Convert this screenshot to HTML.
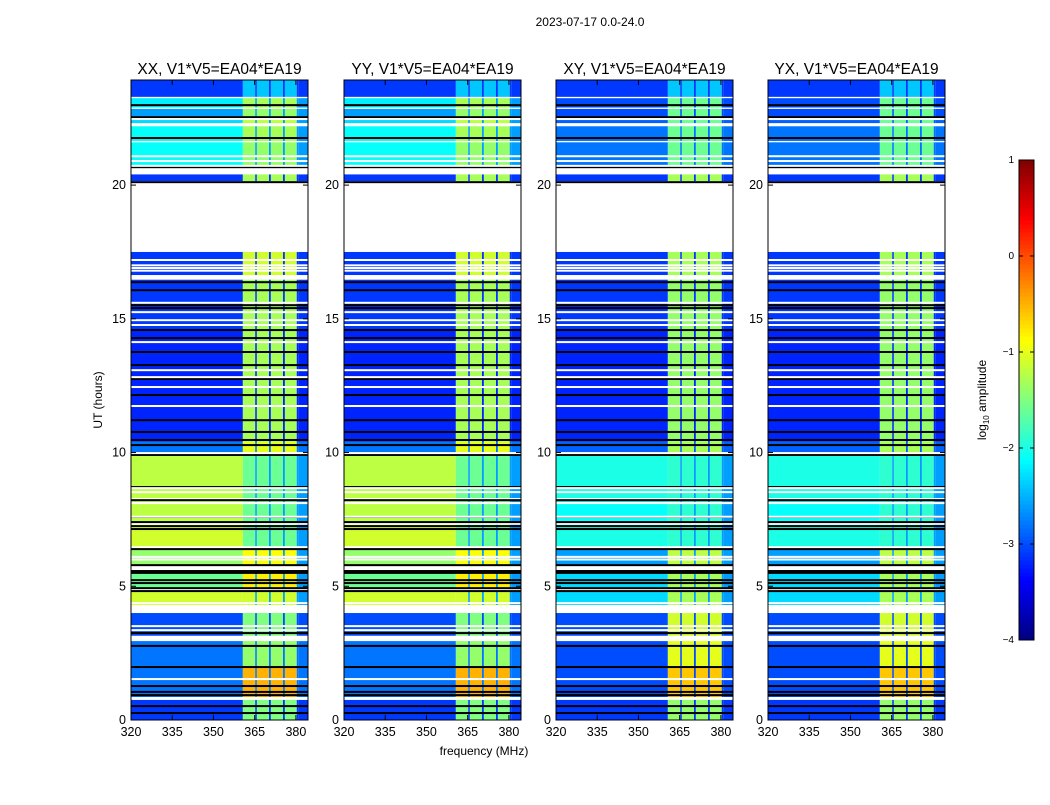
<!DOCTYPE html>
<html><head><meta charset="utf-8"><style>
body{margin:0;background:#fff;font-family:"Liberation Sans",sans-serif}
svg text{font-family:"Liberation Sans",sans-serif}
</style></head><body>
<svg id="fig" width="1050" height="800" xmlns="http://www.w3.org/2000/svg">
<rect width="1050" height="800" fill="#fff"/>
<text x="590" y="26" font-size="12" text-anchor="middle">2023-07-17 0.0-24.0</text>
<text x="484" y="755" font-size="12" text-anchor="middle">frequency (MHz)</text>
<text x="102" y="400" font-size="12" text-anchor="middle" transform="rotate(-90 102 400)">UT (hours)</text>
<g id="panels"></g>
<g id="cbar"></g>
<text x="986" y="400" font-size="12" text-anchor="middle" transform="rotate(-90 986 400)">log<tspan font-size="8" dy="3">10</tspan><tspan dy="-3"> amplitude</tspan></text>
</svg>
<script>
const panelTitles=["XX, V1*V5=EA04*EA19","YY, V1*V5=EA04*EA19","XY, V1*V5=EA04*EA19","YX, V1*V5=EA04*EA19"];
const panelX=[131,344,556,768];
const isCross=[false,false,true,true];
const segStart=[23.3,22.9,22.55,22.3,21.65,20.7,20.15,16.6,14.6,10.4,10.0,8.3,7.4,6.5,5.8,4.9,4.3,3.15,1.98,0.86,0.0];
const segEnd  =[23.93,23.25,22.85,22.5,22.2,21.6,20.4,17.5,16.5,14.6,10.4,9.98,8.2,7.3,6.4,5.6,4.8,4.0,2.95,1.98,0.75];
const bgPar   =[-3.1,-2.2,-2.6,-2.3,-2.1,-2.1,-3.1,-3.1,-3.1,-3.2,-2.8,-1.2,-1.2,-1.1,-1.4,-1.6,-1.1,-3.0,-2.8,-2.8,-3.1];
const rfiPar  =[-2.4,-1.3,-1.4,-1.2,-1.3,-1.4,-1.3,-1.1,-1.3,-1.3,-1.0,-1.6,-1.6,-1.6,-0.9,-0.8,-1.1,-1.5,-1.4,-0.5,-1.5];
const bgCross =[-3.1,-3.0,-3.0,-2.9,-2.8,-2.8,-3.1,-3.1,-3.1,-3.2,-2.9,-2.0,-2.1,-2.0,-2.6,-2.3,-2.3,-3.0,-3.0,-3.0,-3.1];
const rfiCross=[-2.4,-1.6,-1.6,-1.6,-1.6,-1.6,-1.3,-1.3,-1.4,-1.4,-1.3,-1.9,-1.9,-1.9,-1.2,-1.3,-1.3,-1.1,-1.0,-0.6,-1.4];
const bandF0=[360.7,365.2,365.8,370.2,370.9,375.3,376.0,380.3,381.0];
const bandF1=[365.2,365.8,370.2,370.9,375.3,376.0,380.3,381.0,384.4];
const bandOn=[1,0,1,0,1,0,1,0,0];
const blackLines=[22.99,22.54,21.76,20.67,20.11,16.37,16.07,15.51,15.4,14.58,14.28,13.76,13.27,12.75,12.15,11.21,10.77,10.47,10.28,9.91,8.71,8.22,7.59,7.4,7.25,7.14,6.39,5.79,5.57,5.5,5.23,5.12,4.93,4.82,3.25,2.77,1.98,1.27,1.05,0.93,0.52,0.26];
const whiteLines=[22.47,22.28,21.08,20.9,20.72,17.2,17.0,16.9,16.8,16.6,16.5,15.6,15.25,14.95,14.77,14.13,13.08,12.82,12.45,11.74,9.98,8.67,8.52,8.11,7.6,6.1,6.0,4.37,3.51,3.36,1.53];
const xTicks=[320,335,350,365,380];
const yTicks=[0,5,10,15,20];
const cbTicks=[1,0,-1,-2,-3,-4];

const PW=177,yTop=80,yBot=720,fMin=320,fMax=384.4,tMin=0,tMax=23.93;
const ty=t=>yBot-(t-tMin)/(tMax-tMin)*(yBot-yTop);
const NS="http://www.w3.org/2000/svg";
function jet(v){
  let x=(v+4)/5; x=Math.max(0,Math.min(1,x));
  const c=(a)=>Math.max(0,Math.min(1,1.5-Math.abs(4*x-a)));
  return `rgb(${Math.round(c(3)*255)},${Math.round(c(2)*255)},${Math.round(c(1)*255)})`;
}
function mk(tag,attrs,parent){const e=document.createElementNS(NS,tag);for(const k in attrs)e.setAttribute(k,attrs[k]);parent.appendChild(e);return e;}
const panels=document.getElementById('panels');
panelX.forEach((px,pi)=>{
  const fx=f=>px+(f-fMin)/(fMax-fMin)*PW;
  const g=mk('g',{},panels);
  
  
  const cross=isCross[pi];
  segStart.forEach((t0,i)=>{
    const t1=segEnd[i];
    const bg=cross?bgCross[i]:bgPar[i], rf=cross?rfiCross[i]:rfiPar[i];
    const y0=ty(t1),h=ty(t0)-ty(t1);
    const r=mk('rect',{x:fx(fMin),y:y0,width:fx(360.7)-fx(fMin),height:h,fill:jet(bg)},g);
    
    
    bandF0.forEach((f0,j)=>{
      const v=bandOn[j]?rf:Math.min(bg,-2.6);
      const c=mk('rect',{x:fx(f0),y:y0,width:fx(bandF1[j])-fx(f0),height:h,fill:jet(v)},g);
      
      
    });
  });
  blackLines.forEach(t=>{const l=mk('rect',{x:px,y:ty(t)-1,width:PW,height:2,fill:'#000'},g);
    
    });
  whiteLines.forEach(t=>{const l=mk('rect',{x:px,y:ty(t)-1,width:PW,height:2,fill:'#fff'},g);
    
    });
  mk('rect',{x:px,y:yTop,width:PW,height:yBot-yTop,fill:'none',stroke:'#000','stroke-width':1},g);
  const tt=mk('text',{x:px+PW/2,y:74,'font-size':15.5,'text-anchor':'middle'},g);tt.textContent=panelTitles[pi];
  
  
  xTicks.forEach(f=>{const x=fx(f);
    mk('line',{x1:x,y1:yBot,x2:x,y2:yBot-5,stroke:'#000'},g);mk('line',{x1:x,y1:yTop,x2:x,y2:yTop+5,stroke:'#000'},g);
    const t=mk('text',{x:x,y:yBot+16,'font-size':12.5,'text-anchor':'middle'},g);t.textContent=f;
    
    });
  yTicks.forEach(v=>{const y=ty(v);
    mk('line',{x1:px,y1:y,x2:px+5,y2:y,stroke:'#000'},g);mk('line',{x1:px+PW,y1:y,x2:px+PW-5,y2:y,stroke:'#000'},g);
    const t=mk('text',{x:px-5,y:y+4,'font-size':12.5,'text-anchor':'end'},g);t.textContent=v;
    
    });
});
const cb=document.getElementById('cbar');
const cx=1019,cw=15,cTop=160,cBot=640;
const cy=v=>cBot-(v+4)/5*(cBot-cTop);
for(let i=0;i<120;i++){const v0=-4+5*i/120,v1=-4+5*(i+1)/120;
  mk('rect',{x:cx,y:cy(v1),width:cw,height:cy(v0)-cy(v1)+0.5,fill:jet((v0+v1)/2)},cb);}
mk('rect',{x:cx,y:cTop,width:cw,height:cBot-cTop,fill:'none',stroke:'#000'},cb);
cbTicks.forEach(v=>{const y=cy(v);
  mk('line',{x1:cx,y1:y,x2:cx+4,y2:y,stroke:'#000'},cb);mk('line',{x1:cx+cw,y1:y,x2:cx+cw-4,y2:y,stroke:'#000'},cb);
  const t=mk('text',{x:cx-5,y:y+3,'font-size':10,'text-anchor':'end'},cb);t.textContent=(v<0?'\u2212'+(-v):v);
  
  });
</script>
</body></html>
